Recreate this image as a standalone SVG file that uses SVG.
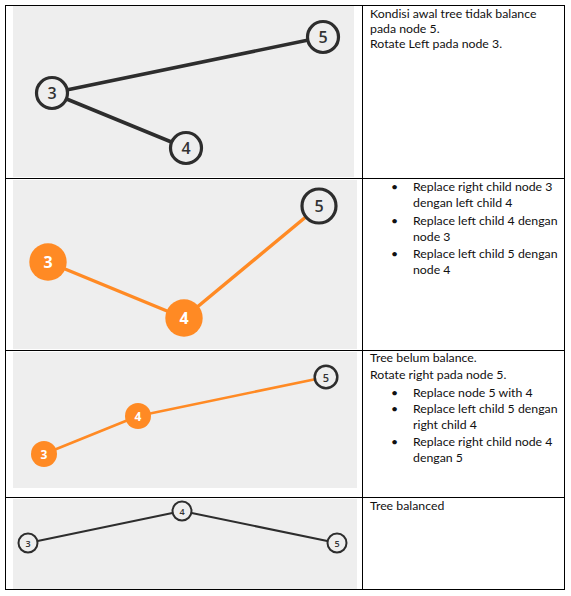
<svg xmlns="http://www.w3.org/2000/svg" width="571" height="596" viewBox="0 0 571 596">
<style>
.bg{fill:#ffffff}
.panel{fill:#eeeeee}
.grid{stroke:#000000;stroke-width:1;fill:none}
.txt{font-family:Lato,"Liberation Sans",sans-serif;font-size:12.3px;fill:#111111}
.dark{stroke:#2d2d2d;fill:none;stroke-linecap:round}
.orng{stroke:#ff8a24;fill:none;stroke-linecap:round}
.nd{fill:#eeeeee;stroke:#2d2d2d}
.no{fill:#ff8a24}
.lbl{font-family:"Open Sans","DejaVu Sans",sans-serif;font-weight:600;text-anchor:middle;dominant-baseline:central;fill:#333333}
.lblw{font-family:"Open Sans","DejaVu Sans",sans-serif;font-weight:700;text-anchor:middle;dominant-baseline:central;fill:#ffffff}
</style>
<rect class="bg" x="0" y="0" width="571" height="596"/>
<g id="panels">
<rect class="panel" x="13" y="6" width="341" height="171"/>
<rect class="panel" x="13" y="180" width="344" height="169"/>
<rect class="panel" x="13" y="352" width="344" height="136"/>
<rect class="panel" x="13" y="499" width="344" height="90"/>
</g>
<g id="table" class="grid">
<rect x="5.5" y="5.5" width="559" height="584"/>
<line x1="362.5" y1="5.5" x2="362.5" y2="589.5"/>
<line x1="5.5" y1="178.5" x2="564.5" y2="178.5"/>
<line x1="5.5" y1="350.5" x2="564.5" y2="350.5"/>
<line x1="5.5" y1="497.5" x2="564.5" y2="497.5"/>
</g>
<g id="connectors">
<line class="dark" stroke-width="3.6" x1="52" y1="93" x2="323" y2="37"/>
<line class="dark" stroke-width="3.6" x1="52" y1="93" x2="186" y2="148"/>
<line class="orng" stroke-width="3.4" x1="48" y1="262" x2="184" y2="318"/>
<line class="orng" stroke-width="3.4" x1="184" y1="318" x2="319" y2="206"/>
<line class="orng" stroke-width="2.6" x1="44" y1="454" x2="138" y2="416"/>
<line class="orng" stroke-width="2.6" x1="138" y1="416" x2="326" y2="377"/>
<line class="dark" stroke-width="2" x1="28" y1="543" x2="182" y2="511"/>
<line class="dark" stroke-width="2" x1="182" y1="511" x2="337" y2="543"/>
</g>
<g id="r1-n3"><circle class="nd" stroke-width="3.2" cx="52" cy="93" r="15.5"/><text class="lbl" x="52" y="93" font-size="16">3</text></g>
<g id="r1-n4"><circle class="nd" stroke-width="3.2" cx="186" cy="148" r="15.5"/><text class="lbl" x="186" y="148" font-size="16">4</text></g>
<g id="r1-n5"><circle class="nd" stroke-width="3.2" cx="323" cy="37" r="15.5"/><text class="lbl" x="323" y="37" font-size="16">5</text></g>
<g id="r2-n3"><circle class="no" cx="48" cy="262" r="18.7"/><text class="lblw" x="48" y="262" font-size="16">3</text></g>
<g id="r2-n4"><circle class="no" cx="184" cy="318" r="18.7"/><text class="lblw" x="184" y="318" font-size="16">4</text></g>
<g id="r2-n5"><circle class="nd" stroke-width="3.2" cx="319" cy="206" r="17"/><text class="lbl" x="319" y="206" font-size="16">5</text></g>
<g id="r3-n3"><circle class="no" cx="44" cy="454" r="13"/><text class="lblw" x="44" y="454" font-size="12">3</text></g>
<g id="r3-n4"><circle class="no" cx="138" cy="416" r="13"/><text class="lblw" x="138" y="416" font-size="12">4</text></g>
<g id="r3-n5"><circle class="nd" stroke-width="2.5" cx="326" cy="377" r="11.3"/><text class="lbl" x="326" y="377" font-size="11">5</text></g>
<g id="r4-n3"><circle class="nd" stroke-width="2" cx="28" cy="543" r="9.5"/><text class="lbl" x="28" y="543" font-size="9">3</text></g>
<g id="r4-n4"><circle class="nd" stroke-width="2" cx="182" cy="511" r="9.5"/><text class="lbl" x="182" y="511" font-size="9">4</text></g>
<g id="r4-n5"><circle class="nd" stroke-width="2" cx="337" cy="543" r="9.5"/><text class="lbl" x="337" y="543" font-size="9">5</text></g>
<g id="notes" class="txt">
<text x="370" y="18.3">Kondisi awal tree tidak balance</text>
<text x="370" y="33.3">pada node 5.</text>
<text x="370" y="48.3">Rotate Left pada node 3.</text>
<text x="391" y="191">•</text><text x="413" y="191">Replace right child node 3</text>
<text x="413" y="207">dengan left child 4</text>
<text x="391" y="225">•</text><text x="413" y="225">Replace left child 4 dengan</text>
<text x="413" y="241">node 3</text>
<text x="391" y="258">•</text><text x="413" y="258">Replace left child 5 dengan</text>
<text x="413" y="274">node 4</text>
<text x="370" y="362">Tree belum balance.</text>
<text x="370" y="379">Rotate right pada node 5.</text>
<text x="391" y="397">•</text><text x="413" y="397">Replace node 5 with 4</text>
<text x="391" y="413">•</text><text x="413" y="413">Replace left child 5 dengan</text>
<text x="413" y="429">right child 4</text>
<text x="391" y="446">•</text><text x="413" y="446">Replace right child node 4</text>
<text x="413" y="462">dengan 5</text>
<text x="370" y="510">Tree balanced</text>
</g>
</svg>
